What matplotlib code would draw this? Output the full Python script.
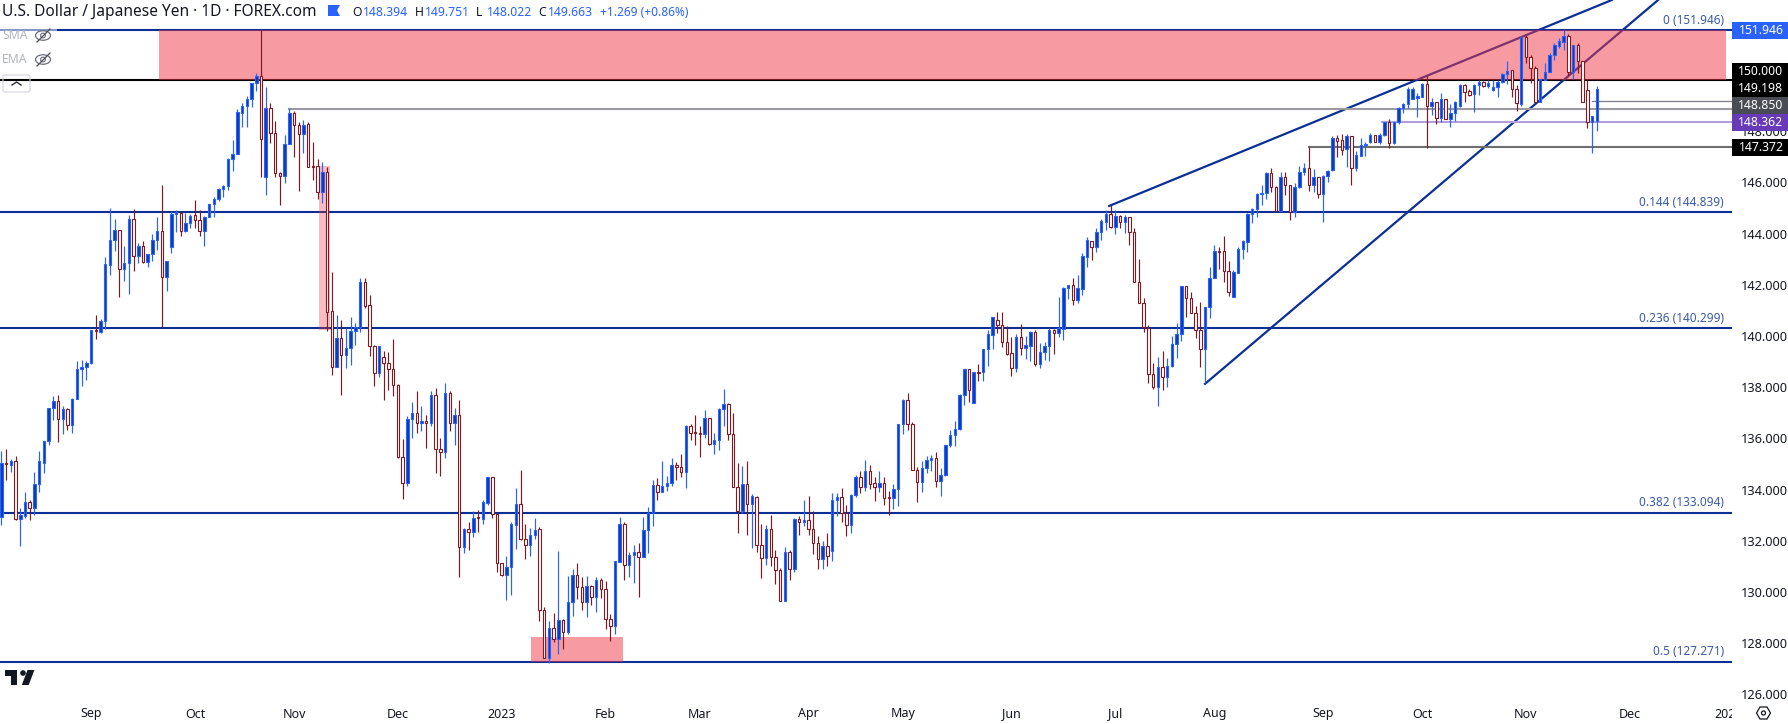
#!/usr/bin/env python3
"""USD/JPY daily candles with fib levels, wedge and resistance zones."""

import matplotlib
matplotlib.use("Agg")
import matplotlib.pyplot as plt
from matplotlib.patches import Rectangle, Polygon, Circle, Ellipse, FancyBboxPatch
from matplotlib.transforms import Affine2D

W, H = 1788, 724
FONT = "Noto Sans"

opens = [
    132.92,135.05,134.96,135.12,132.84,132.98,133.5,133.3,134.2,135.05,
    135.9,137.2,137.45,136.75,137.14,136.51,137.53,138.7,138.78,138.94,
    140.24,140.17,140.6,142.77,143.75,144.14,142.6,142.84,144.57,143.14,
    143.5,142.9,143.19,143.75,144.1,142.3,143.46,144.77,144.82,144.12,
    144.43,144.72,144.53,144.12,144.66,145.15,145.34,145.73,145.84,146.9,
    147.1,148.72,149.0,149.25,149.87,150.16,146.2,148.9,147.92,146.38,
    146.26,147.49,148.7,148.23,147.9,148.28,146.65,146.65,145.64,146.4,
    140.97,138.77,139.91,139.27,139.52,140.18,140.37,142.11,141.2,139.61,
    138.57,139.17,138.93,138.7,138.08,135.29,134.27,136.75,137.0,136.59,
    136.67,136.59,137.68,135.58,135.45,137.76,136.6,136.9,131.74,132.48,
    132.33,132.93,132.86,133.49,134.48,133.03,131.12,130.67,130.99,132.63,
    133.42,132.08,131.85,132.24,132.45,129.29,127.44,128.58,128.16,128.9,
    128.42,129.6,130.66,130.19,129.59,130.23,129.82,130.46,130.11,128.96,
    128.69,131.19,132.65,131.07,131.44,131.55,131.38,132.41,133.1,134.17,
    133.92,134.13,134.24,134.98,134.89,134.7,136.48,136.24,136.2,136.18,
    136.78,135.79,135.92,137.13,137.33,136.16,134.11,133.16,134.2,133.42,
    133.73,131.82,131.31,132.48,131.38,130.86,129.63,131.55,130.89,132.84,
    132.73,132.8,132.45,131.9,131.3,131.8,131.6,133.59,133.7,133.07,
    132.6,133.77,134.48,134.11,134.72,134.24,134.11,134.24,133.7,133.66,
    134.01,136.55,137.5,136.55,134.75,134.28,134.83,135.14,135.22,134.35,
    134.56,135.73,136.12,136.35,137.68,138.71,137.4,138.6,138.58,139.48,
    140.05,140.61,140.44,139.78,139.33,138.76,139.95,139.55,139.62,140.16,
    138.91,139.36,139.6,140.22,140.1,140.26,141.87,141.98,141.42,141.85,
    143.1,143.72,143.49,144.05,144.47,144.77,144.27,144.68,144.44,144.64,
    144.05,142.09,141.3,140.33,138.5,138.02,138.78,138.4,138.83,139.68,
    140.07,141.96,141.47,140.89,140.24,139.48,141.15,142.25,143.32,143.32,
    142.53,141.54,142.48,143.39,143.69,144.76,144.95,145.55,145.57,146.36,
    145.81,144.89,146.2,145.89,144.83,145.81,146.42,146.55,145.89,146.23,
    145.54,146.25,146.5,147.72,147.65,147.29,147.81,146.57,147.05,147.46,
    147.59,147.85,147.59,147.85,148.37,147.55,148.37,148.92,149.05,149.26,
    149.3,149.35,149.84,149.0,149.14,148.5,149.27,148.48,148.7,148.98,
    149.79,149.56,149.45,149.79,149.91,149.77,149.61,149.71,149.91,150.22,
    150.39,149.64,149.06,151.67,150.91,150.46,149.15,150.0,150.33,150.96,
    151.33,151.5,151.73,150.33,151.35,150.74,149.6,148.35,148.39,
]
highs = [
    135.51,135.59,135.2,135.3,133.3,133.9,133.6,134.7,135.5,135.9,
    137.2,137.66,137.68,137.27,137.19,137.57,139.03,139.07,139.03,140.24,
    140.82,140.65,143.1,145.0,144.57,144.14,143.52,144.73,144.95,143.64,
    143.7,143.19,144.0,144.66,145.9,142.94,144.9,144.92,144.9,144.79,
    144.77,145.31,144.92,144.69,145.15,145.44,145.8,145.89,146.95,147.66,
    148.85,149.09,149.38,149.9,150.26,151.95,149.71,149.09,148.39,146.4,
    147.85,148.9,148.8,148.37,148.44,148.37,147.58,146.93,146.78,146.6,
    142.5,140.82,140.63,140.3,140.73,140.5,142.25,142.25,141.6,139.63,
    139.61,139.42,139.38,139.87,138.12,135.97,136.88,137.42,137.84,137.27,
    136.92,137.84,137.96,136.0,138.15,137.85,137.17,137.5,132.5,132.73,
    133.16,133.2,133.59,134.48,134.5,133.07,131.15,131.4,132.73,134.05,
    134.76,132.65,132.5,132.89,132.53,129.4,128.87,129.17,131.6,128.94,
    130.63,130.9,131.12,130.6,130.63,130.28,130.59,130.55,130.43,129.14,
    131.2,132.93,132.73,131.57,131.84,131.9,132.93,133.32,134.38,134.44,
    135.11,134.53,135.23,135.07,135.39,136.53,136.56,136.91,136.48,137.1,
    136.8,136.21,137.18,137.93,137.37,136.98,135.02,134.92,135.11,133.82,
    133.75,132.65,132.6,133.0,131.66,130.93,131.75,131.64,132.88,132.95,
    133.6,133.75,133.16,132.2,132.0,132.3,133.85,133.88,134.05,133.4,
    133.81,134.57,134.72,135.15,134.96,134.48,134.72,134.48,133.94,134.22,
    136.55,137.55,137.76,136.63,134.87,135.12,135.31,135.35,135.47,134.84,
    135.73,136.33,136.67,137.73,138.73,138.73,138.58,138.91,139.48,140.24,
    140.73,140.93,140.93,140.39,139.95,140.08,140.47,140.0,140.2,140.24,
    139.72,139.75,140.3,140.27,141.54,141.93,141.98,142.25,142.38,143.26,
    143.86,143.72,144.2,144.56,144.92,145.1,144.92,144.73,144.73,144.64,
    144.2,143.0,141.47,140.43,138.93,139.17,139.42,139.13,140.0,140.5,
    141.96,141.96,141.73,141.17,141.34,141.15,142.69,143.56,143.47,143.91,
    142.93,142.58,143.47,143.75,144.8,145.0,145.58,145.9,146.42,146.55,
    145.86,146.4,146.4,145.89,145.97,146.64,146.75,147.4,146.51,146.23,
    146.29,146.48,147.81,147.85,147.89,147.88,147.81,147.24,147.72,147.57,
    147.92,147.85,147.92,148.37,148.46,148.37,148.96,149.09,149.71,149.71,
    149.48,149.87,150.16,149.28,149.14,149.48,149.27,149.06,149.19,149.83,
    149.84,149.63,149.83,150.0,149.96,150.0,150.0,150.0,150.29,150.76,
    150.39,149.8,151.7,151.76,150.96,150.55,150.05,150.68,151.04,151.43,
    151.63,151.95,151.78,151.37,151.43,150.74,150.0,148.58,149.75,
]
lows = [
    132.6,134.38,134.7,132.8,131.8,132.9,132.8,133.0,133.9,134.66,
    135.76,136.72,135.84,136.17,136.33,136.23,137.53,138.05,138.28,138.92,
    139.9,140.13,140.29,142.4,143.33,141.54,142.15,141.64,142.55,142.84,
    142.84,142.7,142.94,143.36,140.37,141.77,143.25,144.08,143.9,144.08,
    144.2,144.2,143.9,143.5,144.64,144.66,145.29,145.44,145.7,146.46,
    147.1,148.18,148.18,148.96,149.58,146.2,145.52,147.53,146.22,145.13,
    145.99,147.49,147.0,145.68,147.14,146.6,146.09,145.34,145.2,140.2,
    138.48,138.77,137.7,138.75,138.87,139.65,140.17,141.1,139.2,138.05,
    138.41,137.5,137.9,137.66,135.25,133.65,134.14,136.0,136.23,136.27,
    135.64,136.5,134.66,134.55,135.25,136.3,135.74,130.6,131.53,131.64,
    132.16,132.35,132.67,133.4,132.9,130.78,130.62,129.68,129.9,131.68,
    132.03,131.3,131.4,132.07,128.88,127.44,127.24,128.03,127.58,127.78,
    128.36,129.07,129.73,129.3,129.03,129.5,129.22,129.78,128.56,128.09,
    128.36,131.19,130.47,130.6,130.34,129.82,131.36,131.54,132.56,133.6,
    133.92,133.95,134.15,134.37,134.5,134.07,135.93,135.74,135.28,136.02,
    135.74,135.39,135.54,136.48,135.93,134.11,132.31,133.07,132.22,131.73,
    131.57,130.56,131.05,131.0,130.33,129.63,129.63,130.45,130.8,132.23,
    132.58,132.23,131.5,130.9,130.9,131.0,131.2,132.97,132.75,132.2,
    132.3,133.72,133.88,133.96,134.02,133.57,133.92,133.4,133.0,133.24,
    133.36,136.17,136.33,134.75,133.51,133.9,134.65,134.73,134.11,133.76,
    134.53,135.68,135.71,136.33,137.3,137.44,137.4,138.26,138.26,138.83,
    139.49,140.13,139.58,139.26,138.45,138.61,139.26,139.1,139.02,138.83,
    138.74,139.06,139.02,139.3,139.95,139.85,141.46,141.21,141.3,141.6,
    142.71,142.95,143.28,143.75,144.14,144.23,143.99,144.21,144.04,143.56,
    142.09,141.3,140.17,138.18,137.94,137.28,137.9,138.0,138.8,139.13,
    139.82,140.76,140.89,139.94,138.8,138.15,140.72,142.25,142.6,142.09,
    141.57,141.54,142.45,143.01,143.3,144.43,144.66,145.12,145.34,145.64,
    144.89,144.89,145.51,144.53,144.63,145.77,146.29,145.68,145.64,145.38,
    144.47,146.03,146.45,146.98,147.07,146.6,145.9,146.46,147.05,147.03,
    147.55,147.59,147.5,147.81,147.33,147.5,148.27,148.7,148.9,149.26,
    148.54,149.35,147.33,148.63,148.28,148.37,148.46,148.18,148.41,148.96,
    149.15,149.38,148.76,149.41,149.71,149.67,149.58,149.35,149.87,149.84,
    149.35,148.8,149.0,150.68,149.87,149.15,149.13,150.0,150.33,150.78,
    151.24,151.17,150.16,150.02,150.29,149.15,148.12,147.16,148.02,
]
closes = [
    135.03,135.0,135.12,132.84,133.0,133.5,133.3,134.2,135.1,135.9,
    137.2,137.45,136.75,137.14,136.51,137.53,138.7,138.78,138.94,140.24,
    140.2,140.6,142.8,143.75,144.14,142.6,142.84,144.57,143.14,143.5,
    142.9,143.19,143.75,144.1,142.3,142.94,144.77,144.85,144.12,144.43,
    144.7,144.53,144.12,144.66,145.15,145.35,145.74,145.86,146.9,147.1,
    148.75,149.0,149.25,149.87,150.16,147.68,148.9,147.92,146.38,146.26,
    147.49,148.7,148.23,147.9,148.25,146.6,146.6,145.64,146.4,140.95,
    138.77,139.91,139.27,139.52,140.18,140.37,142.11,141.17,139.59,138.57,
    139.61,138.93,138.7,138.08,135.29,134.27,136.75,137.0,136.59,136.67,
    136.59,137.68,135.58,135.45,137.76,136.6,136.9,131.74,132.48,132.33,
    132.91,132.9,133.5,134.48,133.03,131.12,130.66,130.99,132.65,133.42,
    132.08,131.85,132.24,132.44,129.29,127.44,128.58,128.16,128.9,128.42,
    129.6,130.66,130.19,129.59,130.23,129.82,130.46,130.11,128.96,128.69,
    131.2,132.65,131.07,131.44,131.55,131.38,132.41,133.1,134.17,133.92,
    134.14,134.24,134.98,134.89,134.7,136.48,136.23,136.22,136.18,136.78,
    135.78,135.92,137.13,137.33,136.16,134.11,133.17,134.2,133.42,133.75,
    131.82,131.31,132.48,131.38,130.86,129.63,131.55,130.89,132.84,132.73,
    132.8,132.45,131.9,131.3,131.8,131.4,133.59,133.7,133.07,132.6,
    133.77,134.48,134.11,134.72,134.23,134.11,134.24,133.68,133.66,134.01,
    136.55,137.5,136.55,134.75,134.28,134.83,135.14,135.22,134.35,134.56,
    135.73,136.12,136.35,137.68,138.71,137.88,138.58,138.57,139.48,140.08,
    140.73,140.44,139.78,139.3,138.76,139.95,139.55,139.65,140.16,138.91,
    139.36,139.6,140.22,140.1,140.31,141.88,141.98,141.42,141.86,143.13,
    143.75,143.49,144.07,144.5,144.77,144.27,144.68,144.44,144.64,144.05,
    142.09,141.3,140.34,138.5,138.02,138.78,138.4,138.83,139.68,140.07,
    141.96,141.47,140.89,140.24,139.48,141.15,142.25,143.32,143.29,142.53,
    141.73,142.49,143.39,143.71,144.76,144.95,145.54,145.57,146.36,145.81,
    144.89,146.2,145.89,144.83,145.81,146.42,146.55,145.89,146.23,145.54,
    146.25,146.46,147.75,147.63,147.27,147.81,146.57,147.07,147.46,147.5,
    147.85,147.59,147.85,148.37,147.55,148.37,148.92,149.05,149.65,149.65,
    149.38,149.84,149.0,149.14,148.5,149.27,148.46,148.7,149.15,149.79,
    149.53,149.43,149.79,149.91,149.77,149.88,149.71,149.91,150.22,150.36,
    149.64,149.09,151.67,150.91,150.46,149.15,150.05,150.33,150.96,151.35,
    151.51,151.73,150.33,151.37,150.74,149.15,148.37,148.58,149.66,
]

month_pos = [19, 41, 62, 84, 106, 128, 148, 171, 191, 214, 236, 257, 280, 301, 323, 345, 366]
month_labels = ["Sep", "Oct", "Nov", "Dec", "2023", "Feb", "Mar", "Apr", "May", "Jun",
                "Jul", "Aug", "Sep", "Oct", "Nov", "Dec", "2024"]
# 150.000 is covered by the price box in the reference, so it has no tick of its own
price_ticks = [126, 128, 130, 132, 134, 136, 138, 140, 142, 144, 146, 148]

fib_ratios = ["0", "0.144", "0.236", "0.382", "0.5"]
fib_prices = [151.946, 144.839, 140.299, 133.094, 127.271]

BLUE_EDGE = "#2962ff"
BLUE_FACE = "#0d3bb0"
RED = "#801922"
FIB = "#0b2f95"
INK = "#131722"

fig = plt.figure(figsize=(W / 100, H / 100), dpi=100)
ax = fig.add_axes([0, 1 - 695 / H, 1732 / W, 695 / H])
ax.set_xlim((0 - 1.4) / 4.72, (1732 - 1.4) / 4.72)
ax.set_ylim(150 - 615 / 25.6, 150 + 80 / 25.6)
for s in ax.spines.values():
    s.set_visible(False)

# pixel coordinates of the screenshot, origin top left
px = Affine2D().scale(1 / W, -1 / H).translate(0, 1) + fig.transFigure

ax.yaxis.tick_right()
ax.set_yticks(price_ticks, [f"{p:.3f}" for p in price_ticks])
ax.tick_params(axis="y", length=0, pad=6, labelsize=9.2, labelcolor=INK, labelfontfamily=FONT)
ax.set_xticks(month_pos, month_labels)
ax.tick_params(axis="x", length=0, pad=9, labelsize=9, labelcolor=INK, labelfontfamily=FONT)
for lab in ax.get_xticklabels():
    if lab.get_text() in ("2023", "2024"):
        lab.set_fontweight("bold")
    if lab.get_text() == "2024":
        lab.set_clip_on(True)
        lab.set_clip_path(Rectangle((0, 0), 1732 / W, 1, transform=fig.transFigure))

# levels and wedge sit under the resistance zone
for p in fib_prices:
    ax.axhline(p, color=FIB, lw=1.5, zorder=1)
ax.axhline(150.0, color="black", lw=1.5, zorder=1)
ax.plot([234.7, 341.2], [145.08, 153.125], color=FIB, lw=1.6, zorder=1)
ax.plot([255, 351], [138.13, 153.125], color=FIB, lw=1.6, zorder=1)
ax.plot([61, 367], [148.87, 148.87], color="#9a9aa0", lw=1.5, zorder=1)
ax.plot([337, 367], [149.18, 149.18], color="#787b86", lw=0.9, zorder=1)
ax.plot([292.5, 367], [148.362, 148.362], color="#b39ddb", lw=1.5, zorder=1)
ax.plot([277, 367], [147.372, 147.372], color="#6f6f6f", lw=1.5, zorder=1)

ax.add_patch(Rectangle((33.4, 150.0), 331.9, 1.946, fc="#f23645", alpha=0.5, lw=0, zorder=2))
ax.add_patch(Rectangle((67.3, 140.23), 2.4, 6.41, fc="#f23645", alpha=0.33, lw=0, zorder=2))
ax.add_patch(Rectangle((112.2, 127.271), 19.6, 0.97, fc="#f23645", alpha=0.5, lw=0, zorder=2))

# candles
for i, (o, h, l, c) in enumerate(zip(opens, highs, lows, closes)):
    up = c >= o
    ax.plot([i, i], [l, h], color=BLUE_EDGE if up else RED, lw=0.85, zorder=3,
            solid_capstyle="butt")
    ax.add_patch(Rectangle((i - 0.26, min(o, c)), 0.52, max(abs(c - o), 0.02),
                           fc=BLUE_FACE if up else "white",
                           ec=BLUE_EDGE if up else RED, lw=0.8, zorder=4))

# fib labels
for r, p in zip(fib_ratios, fib_prices):
    y = 80 + (150 - p) * 25.6 - 10
    ax.text(1724, y, f"{r} ({p:.3f})", transform=px, ha="right", va="center",
            fontsize=8.5, color="#3a5aa8", family=FONT, zorder=5)

# price boxes on the right
box_labels = ["151.946", "150.000", "149.198", "148.850", "148.362", "147.372"]
box_colors = ["#2962ff", "#000000", "#000000", "#4a4c55", "#673ab7", "#000000"]
box_tops = [22, 63, 80, 97, 114, 139]
for lab, col, top in zip(box_labels, box_colors, box_tops):
    ax.add_patch(Rectangle((1732, top), 56, 17, transform=px, fc=col, lw=0,
                           clip_on=False, zorder=6))
    ax.text(1761, top + 8.5, lab, transform=px, ha="center", va="center", color="white",
            fontsize=8.8, fontweight="bold", family=FONT, clip_on=False, zorder=7)

# header
ax.text(2, 12, "U.S. Dollar / Japanese Yen · 1D · FOREX.com", transform=px, ha="left",
        va="center", fontsize=11.15, color=INK, family=FONT, zorder=7)
ax.add_patch(Polygon([(328, 5), (340, 5), (337, 10.5), (340, 16), (328, 16)], closed=True,
                     transform=px, fc=BLUE_EDGE, lw=0, zorder=7))
ohlc_keys = ["O", "H", "L", "C"]
ohlc_vals = ["148.394", "149.751", "148.022", "149.663"]
for k, (key, val) in enumerate(zip(ohlc_keys, ohlc_vals)):
    x0 = 352.7 + 61.7 * k
    ax.text(x0, 12, key, transform=px, ha="left", va="center", fontsize=8.8, color=INK,
            family=FONT, zorder=7)
    ax.text(x0 + 10.5, 12, val, transform=px, ha="left", va="center", fontsize=8.8,
            color=BLUE_EDGE, family=FONT, zorder=7)
ax.text(600, 12, "+1.269 (+0.86%)", transform=px, ha="left", va="center", fontsize=8.6,
        color=BLUE_EDGE, family=FONT, zorder=7)

# hidden indicators, top left
ax.add_patch(Rectangle((0, 28), 57, 4, transform=px, fc="white", alpha=0.5, lw=0, zorder=5))
for name, yy in [("SMA", 35.5), ("EMA", 59.5)]:
    ax.text(2, yy, name, transform=px, ha="left", va="center", fontsize=8.8, color="#b2b5be",
            family=FONT, zorder=7)
    ax.add_patch(Ellipse((43, yy), 15, 9.5, transform=px, fc="none", ec="#6a6d78", lw=0.9, zorder=7))
    ax.add_patch(Circle((43, yy), 2.4, transform=px, fc="none", ec="#6a6d78", lw=0.8, zorder=7))
    ax.plot([37, 50], [yy + 6.5, yy - 6.5], transform=px, color="#4a4c55", lw=0.9, zorder=7)
ax.add_patch(FancyBboxPatch((3, 75), 27, 17, boxstyle="round,pad=0,rounding_size=2", transform=px,
                            fc="none", ec="#d1d4dc", lw=0.8, zorder=7))
ax.plot([12, 16.5, 21], [85, 82, 85], transform=px, color="#2a2e39", lw=1.0, zorder=7)

# TradingView logo
logo = "#131722"
ax.add_patch(Polygon([(4.6, 670), (17.2, 670), (17.2, 685), (10.7, 685), (10.7, 675.7), (4.6, 675.7)],
                     closed=True, transform=px, fc=logo, lw=0, clip_on=False, zorder=7))
ax.add_patch(Circle((23, 673), 2.8, transform=px, fc=logo, lw=0, clip_on=False, zorder=7))
ax.add_patch(Polygon([(27.5, 670), (34.4, 670), (28.7, 685), (21.8, 685)], closed=True,
                     transform=px, fc=logo, lw=0, clip_on=False, zorder=7))

# settings icon
ax.add_patch(Polygon([(1756.5, 713), (1760, 707), (1767, 707), (1770.5, 713), (1767, 719), (1760, 719)],
                     closed=True, transform=px, fc="none", ec=INK, lw=0.9, clip_on=False, zorder=7))
ax.add_patch(Circle((1763.5, 713), 2, transform=px, fc="none", ec=INK, lw=0.9, clip_on=False, zorder=7))

fig.savefig("out.png", dpi=100, facecolor="white")
